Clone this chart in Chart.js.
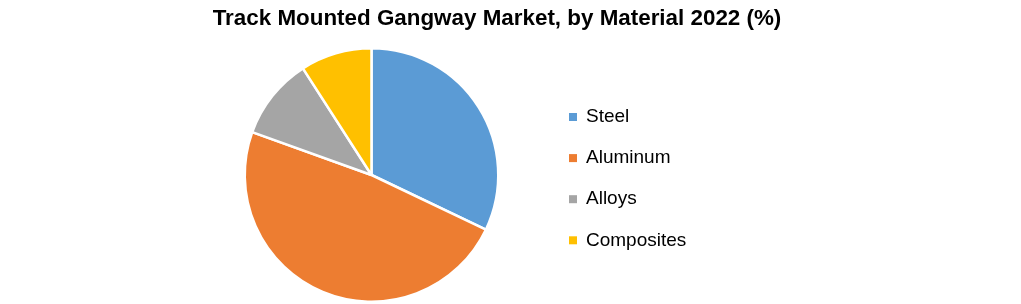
<!DOCTYPE html>
<html>
<head>
<meta charset="utf-8">
<script src="https://cdn.jsdelivr.net/npm/chart.js@4/dist/chart.umd.min.js"></script>
<style>
  html, body { margin: 0; padding: 0; background: #fff; }
  #wrap { width: 1021px; height: 304px; position: relative; }
</style>
</head>
<body>
<div id="wrap"><canvas id="material-chart"></canvas></div>
<script>
const titleText = "Track Mounted Gangway Market, by Material 2022 (%)";
const materials = ["Steel", "Aluminum", "Alloys", "Composites"];
const shares = [32.1, 48.4, 10.4, 9.1];
const colors = ["#5B9BD5", "#ED7D31", "#A5A5A5", "#FFC000"];

// title and legend are drawn by hand so they can sit where the original has them
const sideText = {
  id: "sideText",
  afterDraw(chart) {
    const ctx = chart.ctx;
    ctx.save();
    ctx.fillStyle = "#000";
    ctx.font = "bold 22.4px 'Liberation Sans', Arial, sans-serif";
    ctx.textAlign = "center";
    ctx.textBaseline = "middle";
    ctx.fillText(titleText, 497, 19);

    ctx.font = "19px 'Liberation Sans', Arial, sans-serif";
    ctx.textAlign = "left";
    const ds = chart.data.datasets[0];
    chart.data.labels.forEach((label, i) => {
      const y = 117 + i * 41.1;
      ctx.fillStyle = ds.backgroundColor[i];
      ctx.fillRect(569, y - 4, 8, 8);
      ctx.fillStyle = "#000";
      ctx.fillText(label, 586, y);
    });
    ctx.restore();
  },
};

new Chart(document.getElementById("material-chart"), {
  type: "pie",
  data: {
    labels: materials,
    datasets: [
      {
        data: shares,
        backgroundColor: colors,
        borderColor: "#fff",
        borderWidth: 2.5,
      },
    ],
  },
  options: {
    responsive: true,
    maintainAspectRatio: false,
    animation: false,
    layout: {
      padding: { top: 47, bottom: 1, left: 0, right: 278 },
    },
    plugins: {
      legend: { display: false },
      title: { display: false },
      tooltip: { enabled: false },
    },
  },
  plugins: [sideText],
});
</script>
</body>
</html>
